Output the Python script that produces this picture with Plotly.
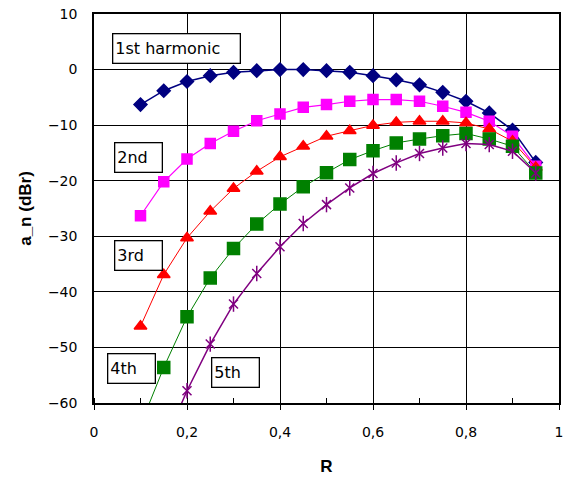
import plotly.graph_objects as go

R = [0.1, 0.15, 0.2, 0.25, 0.3, 0.35, 0.4, 0.45, 0.5, 0.55, 0.6, 0.65, 0.7, 0.75, 0.8, 0.85, 0.9, 0.95]

h1 = [-6.3, -3.8, -2.15, -1.1, -0.5, -0.2, 0.0, 0.0, -0.2, -0.5, -1.1, -1.85, -2.75, -4.1, -5.7, -7.8, -10.9, -16.7]
h2 = [-26.3, -20.2, -16.1, -13.3, -11.1, -9.2, -8.0, -6.8, -6.3, -5.7, -5.4, -5.4, -5.7, -6.6, -7.7, -9.3, -12.0, -17.4]
h3 = [-46.2, -36.9, -30.3, -25.5, -21.4, -18.3, -15.7, -13.8, -12.0, -11.0, -10.05, -9.5, -9.3, -9.3, -9.6, -10.7, -12.9, -17.6]
h4 = [-64.0, -53.6, -44.5, -37.5, -32.2, -27.8, -24.2, -21.1, -18.55, -16.2, -14.6, -13.2, -12.5, -11.9, -11.5, -12.5, -13.8, -18.6]
h5 = [None, -67.5, -57.8, -49.4, -42.2, -36.7, -31.9, -27.7, -24.3, -21.3, -18.7, -16.8, -15.1, -14.1, -13.3, -13.5, -14.7, -18.6]

x_tickvals = [0, 0.2, 0.4, 0.6, 0.8, 1.0]
x_ticktext = ["0", "0,2", "0,4", "0,6", "0,8", "1"]
y_tickvals = [10, 0, -10, -20, -30, -40, -50, -60]

labels = ["1st harmonic", "2nd", "3rd", "4th", "5th"]
label_x = [0.178, 0.096, 0.096, 0.080, 0.305]
label_y = [3.83, -15.9, -33.4, -53.8, -54.6]
label_w = [122, 42, 42, 42, 42]

fig = go.Figure()
series = [
    (h1, "#000080", "diamond", 10, 1.5),
    (h2, "#FF00FF", "square", 10, 1.2),
    (h3, "#FF0000", "triangle-up", 11, 1),
    (h4, "#008000", "square", 12, 1),
    (h5, "#800080", "x-thin-open", 9, 1.5),
]
for ys, col, sym, sz, lw in series:
    fig.add_trace(go.Scatter(
        x=R, y=ys, mode="lines+markers",
        line=dict(color=col, width=lw),
        marker=dict(symbol=sym, size=sz, color=col, line=dict(color=col, width=1.5)),
        showlegend=False,
    ))
# vertical stroke of the 5th-harmonic star marker
fig.add_trace(go.Scatter(
    x=R, y=h5, mode="markers",
    marker=dict(symbol="line-ns-open", size=11, color="#800080", line=dict(color="#800080", width=1.5)),
    showlegend=False,
))

for t, lx, ly, w in zip(labels, label_x, label_y, label_w):
    fig.add_annotation(
        x=lx, y=ly, xref="x", yref="y", text=t, showarrow=False,
        font=dict(family="DejaVu Sans", size=16, color="black"),
        bgcolor="white", bordercolor="black", borderwidth=1.3, borderpad=2,
        width=w, height=24, align="left",
    )

fig.update_layout(
    width=569, height=485,
    margin=dict(l=94, r=9.5, t=14, b=81.7, autoexpand=False),
    paper_bgcolor="white", plot_bgcolor="white",
    font=dict(family="DejaVu Sans", color="black"),
)
fig.update_xaxes(
    range=[0, 1], tickvals=x_tickvals, ticktext=x_ticktext,
    automargin=False, ticklabeloverflow="allow",
    showgrid=True, gridcolor="black", gridwidth=1,
    showline=True, linecolor="black", linewidth=1.5, mirror=True,
    ticks="outside", ticklen=5, tickcolor="black",
    tickfont=dict(family="DejaVu Sans", size=14),
    ticklabelstandoff=10,
    minor=dict(ticks="inside", ticklen=5, dtick=0.1, tick0=0, tickcolor="black", showgrid=False),
    zeroline=False,
    title=dict(text="<b>R</b>", font=dict(family="Liberation Sans", size=17), standoff=22),
)
fig.update_yaxes(
    range=[-60, 10], tickvals=y_tickvals,
    automargin=False, ticklabeloverflow="allow",
    showgrid=True, gridcolor="black", gridwidth=1,
    showline=True, linecolor="black", linewidth=1.5, mirror=True,
    ticks="", tickfont=dict(family="DejaVu Sans", size=14),
    ticklabelstandoff=12,
    zeroline=False,
    title=dict(text="<b>a_n (dBr)</b>", font=dict(family="Liberation Sans", size=17), standoff=12),
)
fig.write_html("out.html", config={"displayModeBar": False},
               post_script="document.body.style.margin='0';")
